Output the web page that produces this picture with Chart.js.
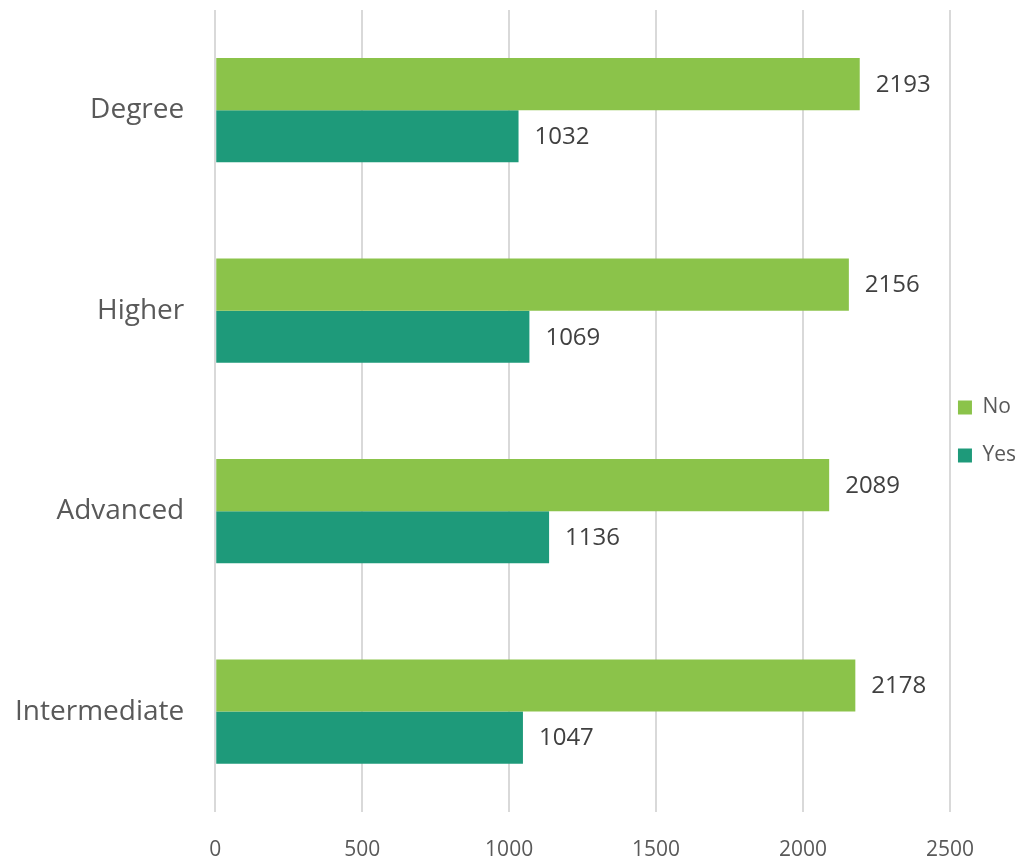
<!DOCTYPE html>
<html>
<head>
<meta charset="utf-8">
<script src="https://cdn.jsdelivr.net/npm/chart.js@4"></script>
<style>
  html, body { margin: 0; padding: 0; background: #fff; }
  #wrap { width: 1020px; height: 861px; }
</style>
</head>
<body>
<div id="wrap"><canvas id="myChart" width="1020" height="861"></canvas></div>
<script>
var categories = ['Degree', 'Higher', 'Advanced', 'Intermediate'];
var noValues = [2193, 2156, 2089, 2178];
var yesValues = [1032, 1069, 1136, 1047];
var xTicks = [0, 500, 1000, 1500, 2000, 2500];

var fontName = "'Open Sans', 'Liberation Sans', sans-serif";

// prints the value just right of each bar end
var valueLabels = {
    id: 'valueLabels',
    afterDatasetsDraw: function(chart) {
        var c = chart.ctx;
        c.save();
        c.font = '24px ' + fontName;
        c.fillStyle = '#404040';
        c.textBaseline = 'middle';
        c.textAlign = 'left';
        chart.data.datasets.forEach(function(ds, i) {
            var meta = chart.getDatasetMeta(i);
            meta.data.forEach(function(bar, j) {
                c.fillText(ds.data[j], bar.x + 16, bar.y + 1);
            });
        });
        c.restore();
    }
};

// legend sits close to the plot, like the excel one
var legendShift = {
    id: 'legendShift',
    afterLayout: function(chart) {
        var lg = chart.legend;
        var left = chart.chartArea.right + 8 - lg.options.labels.padding;
        lg.left = left;
        lg.right = left + lg.width;
        lg.top -= 3;
        lg.bottom -= 3;
    }
};

var ctx = document.getElementById('myChart').getContext('2d');
var myChart = new Chart(ctx, {
    type: 'bar',
    data: {
        labels: categories,
        datasets: [
            {
                label: 'No',
                data: noValues,
                backgroundColor: '#8BC34A',
                barPercentage: 1,
                categoryPercentage: 0.52
            },
            {
                label: 'Yes',
                data: yesValues,
                backgroundColor: '#1E9A7A',
                barPercentage: 1,
                categoryPercentage: 0.52
            }
        ]
    },
    options: {
        indexAxis: 'y',
        responsive: false,
        animation: false,
        layout: { padding: { top: 10, bottom: 2, left: 15, right: -25 } },
        plugins: {
            legend: {
                position: 'right',
                labels: {
                    font: { family: fontName, size: 21 },
                    color: '#595959',
                    boxWidth: 14,
                    boxHeight: 14,
                    padding: 27
                }
            },
            tooltip: { enabled: false }
        },
        scales: {
            x: {
                min: 0,
                max: 2500,
                afterBuildTicks: function(axis) {
                    axis.ticks = xTicks.map(function(v) { return { value: v }; });
                },
                afterFit: function(axis) {
                    axis.paddingLeft = 0;
                    axis.paddingRight = 0;
                    axis.height -= 30;
                },
                grid: { color: '#d9d9d9', lineWidth: 2, drawTicks: false },
                border: { display: false },
                ticks: {
                    padding: 26,
                    color: '#595959',
                    font: { family: fontName, size: 21 },
                    callback: function(v) { return String(v); }
                }
            },
            y: {
                afterFit: function(axis) {
                    axis.paddingTop = 0;
                    axis.paddingBottom = 0;
                    axis.width -= 31;
                },
                grid: { display: false, drawTicks: false },
                border: { display: false },
                ticks: {
                    padding: 31,
                    color: '#595959',
                    font: { family: fontName, size: 28 }
                }
            }
        }
    },
    plugins: [valueLabels, legendShift]
});
</script>
</body>
</html>
